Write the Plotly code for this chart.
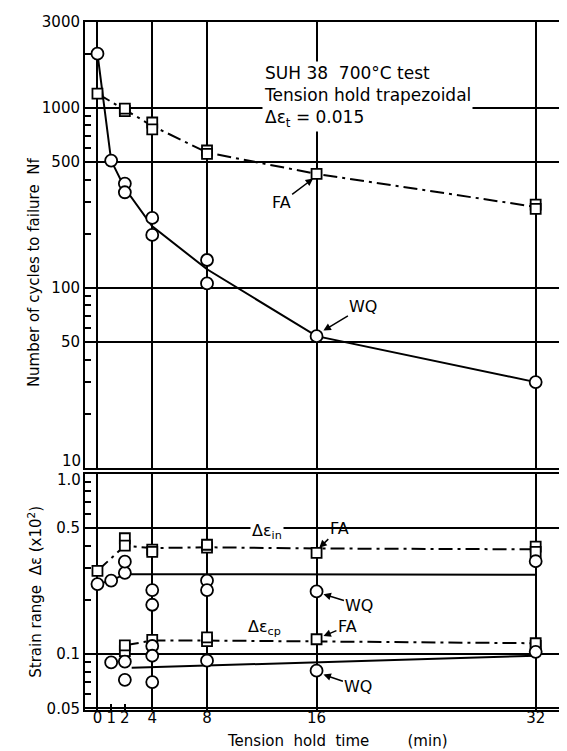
import math
import plotly.graph_objects as go

# ---------------- data ----------------
hold_ticks = [0, 1, 2, 4, 8, 16, 32]
hold_grid = [0, 4, 8, 16, 32]

# Top panel: number of cycles to failure Nf
wq_nf_x = [0, 1, 2, 2, 4, 4, 8, 8, 16, 32]
wq_nf_y = [2000, 510, 380, 340, 245, 197, 143, 106, 54, 30]
wq_nf_curve_x = [0, 1, 2, 4, 8, 16, 32]
wq_nf_curve_y = [2000, 510, 358, 220, 127, 54, 30]

fa_nf_x = [0, 2, 2, 4, 4, 8, 8, 16, 32, 32]
fa_nf_y = [1200, 960, 990, 830, 760, 580, 555, 430, 290, 275]
fa_nf_curve_x = [0, 2, 4, 8, 16, 32]
fa_nf_curve_y = [1200, 975, 795, 565, 430, 282]

# Bottom panel: strain ranges (x10^2)
fa_in_x = [0, 2, 2, 4, 4, 8, 8, 16, 32, 32]
fa_in_y = [0.29, 0.44, 0.40, 0.38, 0.37, 0.39, 0.405, 0.365, 0.395, 0.37]
fa_in_curve_x = [0, 2, 4, 8, 16, 32]
fa_in_curve_y = [0.29, 0.40, 0.388, 0.392, 0.386, 0.382]

wq_in_x = [0, 1, 2, 2, 4, 4, 8, 8, 16, 32]
wq_in_y = [0.245, 0.256, 0.283, 0.326, 0.227, 0.188, 0.256, 0.227, 0.223, 0.328]
wq_in_curve_x = [0, 1, 2, 32]
wq_in_curve_y = [0.245, 0.256, 0.278, 0.276]

fa_cp_x = [2, 2, 4, 8, 8, 16, 32, 32]
fa_cp_y = [0.104, 0.112, 0.120, 0.118, 0.124, 0.121, 0.111, 0.115]
fa_cp_curve_x = [2, 4, 8, 16, 32]
fa_cp_curve_y = [0.112, 0.119, 0.119, 0.118, 0.115]

wq_cp_x = [1, 2, 2, 4, 4, 4, 8, 16, 32]
wq_cp_y = [0.090, 0.091, 0.072, 0.111, 0.098, 0.070, 0.092, 0.081, 0.103]
wq_cp_curve_x = [2.5, 32]
wq_cp_curve_y = [0.084, 0.098]

nf_ticks = [10, 50, 100, 500, 1000, 3000]
nf_ticktext = ["", "50", "100", "500", "1000", "3000"]   # "10" drawn separately
nf_minor = [20, 30, 40, 60, 70, 80, 90, 200, 300, 400, 600, 700, 800, 900, 2000]
de_ticks = [0.05, 0.1, 0.5, 1.0]
de_ticktext = ["0.05", "0.1", "0.5", ""]                  # "1.0" drawn separately
de_minor = [0.06, 0.07, 0.08, 0.09, 0.2, 0.3, 0.4, 0.6, 0.7, 0.8, 0.9]

# ---------------- figure ----------------
FONT = "DejaVu Sans"
fig = go.Figure()

def curve(x, y, yaxis, dash):
    fig.add_trace(go.Scatter(x=x, y=y, xaxis="x" if yaxis == "y" else "x2", yaxis=yaxis,
                             mode="lines", line=dict(color="black", width=2, dash=dash),
                             showlegend=False, hoverinfo="skip"))

def pts(x, y, yaxis, symbol, size):
    fig.add_trace(go.Scatter(x=x, y=y, xaxis="x" if yaxis == "y" else "x2", yaxis=yaxis,
                             mode="markers",
                             marker=dict(symbol=symbol, size=size, color="white",
                                         line=dict(color="black", width=1.8)),
                             showlegend=False))

DASHDOT = "14px,5px,3px,5px"

# top panel (y2)
curve(fa_nf_curve_x, fa_nf_curve_y, "y2", DASHDOT)
curve(wq_nf_curve_x, wq_nf_curve_y, "y2", "solid")
pts(fa_nf_x, fa_nf_y, "y2", "square", 10)
pts(wq_nf_x, wq_nf_y, "y2", "circle", 12)

# bottom panel (y)
curve(fa_in_curve_x, fa_in_curve_y, "y", DASHDOT)
curve(wq_in_curve_x, wq_in_curve_y, "y", "solid")
curve(fa_cp_curve_x, fa_cp_curve_y, "y", DASHDOT)
curve(wq_cp_curve_x, wq_cp_curve_y, "y", "solid")
pts(fa_in_x, fa_in_y, "y", "square", 10)
pts(fa_cp_x, fa_cp_y, "y", "square", 10)
pts(wq_in_x, wq_in_y, "y", "circle", 12)
pts(wq_cp_x, wq_cp_y, "y", "circle", 12)

XR = [-0.91, 34.36]
common_x = dict(range=XR, tickmode="array", tickvals=hold_ticks,
                ticklen=6, tickwidth=1.5, tickcolor="black",
                showgrid=False, zeroline=False,
                showline=True, linecolor="black", linewidth=2, mirror=True,
                minor=dict(tickmode="array", tickvals=hold_grid, ticks="",
                           showgrid=True, gridcolor="black", gridwidth=1.5),
                tickfont=dict(family=FONT, size=15, color="black"))

common_y = dict(type="log", tickmode="array", ticks="", showgrid=True,
                gridcolor="black", gridwidth=1.5, zeroline=False,
                showline=True, linecolor="black", linewidth=2, mirror=True,
                tickfont=dict(family=FONT, size=15, color="black"))

fig.update_layout(
    width=567, height=751,
    margin=dict(l=77, r=5, t=11, b=49),
    paper_bgcolor="white", plot_bgcolor="white",
    font=dict(family=FONT, size=15, color="black"),
    xaxis=dict(**common_x, ticks="inside", anchor="y", domain=[0, 1], ticklabelstandoff=-7),
    xaxis2=dict(**common_x, ticks="", anchor="y2", domain=[0, 1], matches="x",
                showticklabels=False),
    yaxis=dict(**common_y, domain=[0, 0.3430], range=[-1.310, 0],
               tickvals=de_ticks, ticktext=de_ticktext,
               minor=dict(tickmode="array", tickvals=de_minor, ticks="inside",
                          ticklen=6, tickwidth=1.5, tickcolor="black", showgrid=False)),
    yaxis2=dict(**common_y, domain=[0.3517, 1], range=[1, math.log10(3000)],
                tickvals=nf_ticks, ticktext=nf_ticktext,
                minor=dict(tickmode="array", tickvals=nf_minor, ticks="inside",
                           ticklen=6, tickwidth=1.5, tickcolor="black", showgrid=False)),
)

L = math.log10
ann = []
# top panel text block
ann.append(dict(x=12.0, y=L(1150), xref="x2", yref="y2", xanchor="left", yanchor="middle",
                align="left", showarrow=False, bgcolor="white",
                text="SUH 38  700°C test<br>Tension hold trapezoidal<br>Δε<sub>t</sub> = 0.015",
                font=dict(family=FONT, size=17)))

def arrow(text, x, y, ax, ay, xref, yref):
    ann.append(dict(x=x, y=L(y), xref=xref, yref=yref, text=text, showarrow=True,
                    ax=ax, ay=ay, arrowhead=2, arrowsize=1, arrowwidth=1.5,
                    arrowcolor="black", font=dict(family=FONT, size=16)))

arrow("FA", 15.75, 405, -32, 24, "x2", "y2")
arrow("WQ", 16.5, 58, 40, -24, "x2", "y2")
arrow("FA", 16.2, 0.39, 20, -19, "x", "y")
arrow("WQ", 16.5, 0.215, 36, 11, "x", "y")
arrow("FA", 16.5, 0.126, 24, -10, "x", "y")
arrow("WQ", 16.5, 0.077, 35, 12, "x", "y")

ann.append(dict(x=12.4, y=L(0.48), xref="x", yref="y", text="Δε<sub>in</sub>", showarrow=False,
                bgcolor="white", font=dict(family=FONT, size=16)))
ann.append(dict(x=12.2, y=L(0.14), xref="x", yref="y", text="Δε<sub>cp</sub>", showarrow=False,
                font=dict(family=FONT, size=16)))

# the two stacked end labels "10" (top panel) and "1.0" (bottom panel)
ann.append(dict(x=-0.005, y=(702 - 452) / 691, xref="paper", yref="paper", text="10",
                showarrow=False, xanchor="right", yanchor="middle",
                font=dict(family=FONT, size=15)))
ann.append(dict(x=-0.005, y=(702 - 471) / 691, xref="paper", yref="paper", text="1.0",
                showarrow=False, xanchor="right", yanchor="middle",
                font=dict(family=FONT, size=15)))

# axis titles
ann.append(dict(x=(26 - 77) / 485, y=(702 - 262) / 691, xref="paper", yref="paper",
                text="Number of cycles to failure  Nf", textangle=-90, showarrow=False,
                xanchor="center", yanchor="middle", font=dict(family=FONT, size=15)))
ann.append(dict(x=(26 - 77) / 485, y=(702 - 583) / 691, xref="paper", yref="paper",
                text="Strain range  Δε (x10<sup>2</sup>)", textangle=-90, showarrow=False,
                xanchor="center", yanchor="middle", font=dict(family=FONT, size=15)))
ann.append(dict(x=(331 - 77) / 485, y=(702 - 733) / 691, xref="paper", yref="paper",
                text="Tension  hold  time        (min)", showarrow=False,
                xanchor="center", yanchor="middle", font=dict(family=FONT, size=15)))

fig.update_layout(annotations=ann)
fig.write_html("out.html")
